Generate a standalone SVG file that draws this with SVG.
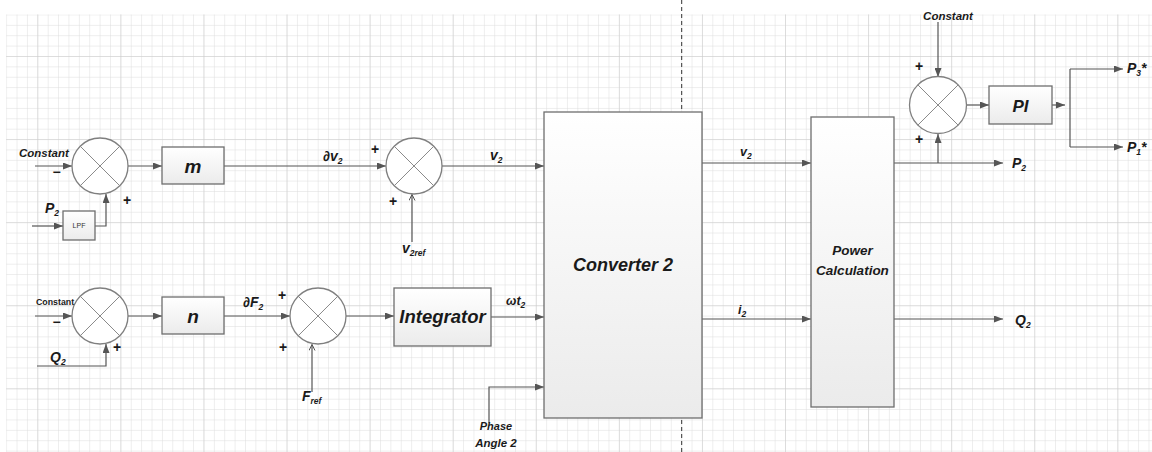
<svg xmlns="http://www.w3.org/2000/svg" width="1152" height="452" viewBox="0 0 1152 452">
<style>
.t{font-family:"Liberation Sans",Arial,sans-serif;font-weight:bold;font-style:italic;fill:#1a1a1a}
.s{font-size:8.5px}
.box{fill:url(#bg);stroke:#6e6e6e;stroke-width:1.3}
.sum circle{fill:#fff;stroke:#7f7f7f;stroke-width:1.3}
.sum line{stroke:#8a8a8a;stroke-width:1}
.c{fill:none;stroke:#555;stroke-width:1.2}
.sign{font-family:"Liberation Sans",Arial,sans-serif;font-weight:bold;font-size:14px;fill:#1a1a1a;text-anchor:middle}
</style>
<defs>
<linearGradient id="bg" x1="0" y1="0" x2="0" y2="1"><stop offset="0" stop-color="#ffffff"/><stop offset="1" stop-color="#ebebeb"/></linearGradient>
<marker id="ar" markerUnits="userSpaceOnUse" markerWidth="9" markerHeight="7" refX="9" refY="3.5" orient="auto"><path d="M0,0 L9,3.5 L0,7 z" fill="#555"/></marker>
<marker id="oa" markerUnits="userSpaceOnUse" markerWidth="7" markerHeight="7" refX="6" refY="3.5" orient="auto"><path d="M0,0.5 L6,3.5 L0,6.5" fill="none" stroke="#555" stroke-width="1"/></marker>
<pattern id="gmin" patternUnits="userSpaceOnUse" x="6.15" y="14.46" width="10.385" height="10.385"><path d="M0,0 H10.385 M0,0 V10.385" stroke="#dcdcdc" stroke-width="1" fill="none"/></pattern>
<pattern id="gmaj" patternUnits="userSpaceOnUse" x="37.3" y="56" width="83.08" height="83.08"><path d="M0,0 H83.08 M0,0 V83.08" stroke="#cbcbcb" stroke-width="1" fill="none"/></pattern>
</defs>
<rect width="1152" height="452" fill="#fff"/>
<g id="grid">
<rect x="6.15" y="14.46" width="1146" height="438" fill="url(#gmin)"/>
<rect x="6.15" y="14.46" width="1146" height="438" fill="url(#gmaj)"/>
</g>
<line id="divider" x1="681.7" y1="0" x2="681.7" y2="452" stroke="#333" stroke-width="1" stroke-dasharray="4,3"/>

<g id="connectors">
<path class="c" d="M35,166 H72" marker-end="url(#ar)"/>
<path class="c" d="M32,226 H63" marker-end="url(#ar)"/>
<path class="c" d="M95,226 H106 V194" marker-end="url(#ar)"/>
<path class="c" d="M128,166 H162" marker-end="url(#ar)"/>
<path class="c" d="M224,166 H386" marker-end="url(#ar)"/>
<path class="c" d="M442,166 H544" marker-end="url(#ar)"/>
<path class="c" d="M412,242 V194.5" marker-end="url(#oa)"/>
<path class="c" d="M35,316 H72" marker-end="url(#ar)"/>
<path class="c" d="M37,366 H106 V344" marker-end="url(#ar)"/>
<path class="c" d="M128,316 H162" marker-end="url(#ar)"/>
<path class="c" d="M224,316 H290" marker-end="url(#ar)"/>
<path class="c" d="M312,392 V344.5" marker-end="url(#oa)"/>
<path class="c" d="M346,316 H394" marker-end="url(#ar)"/>
<path class="c" d="M491,317 H544" marker-end="url(#ar)"/>
<path class="c" d="M489,423 V387 H544" marker-end="url(#ar)"/>
<path class="c" d="M702,163 H811" marker-end="url(#ar)"/>
<path class="c" d="M702,319 H811" marker-end="url(#ar)"/>
<path class="c" d="M894,163 H1003" marker-end="url(#ar)"/>
<path class="c" d="M938,163 V134" marker-end="url(#ar)"/>
<path class="c" d="M938,22 V77" marker-end="url(#ar)"/>
<path class="c" d="M967,105 H989" marker-end="url(#ar)"/>
<path class="c" d="M1052,105 H1065" marker-end="url(#ar)"/>
<path class="c" d="M1070,69 V147"/>
<path class="c" d="M1070,69 H1123" marker-end="url(#ar)"/>
<path class="c" d="M1070,147 H1123" marker-end="url(#ar)"/>
<path class="c" d="M894,319 H1003" marker-end="url(#ar)"/>
</g>

<g id="sum1" class="sum"><circle cx="100" cy="166" r="28"/><line x1="80.2" y1="146.2" x2="119.8" y2="185.8"/><line x1="119.8" y1="146.2" x2="80.2" y2="185.8"/></g>
<g id="sum2" class="sum"><circle cx="100" cy="316" r="28"/><line x1="80.2" y1="296.2" x2="119.8" y2="335.8"/><line x1="119.8" y1="296.2" x2="80.2" y2="335.8"/></g>
<g id="sum3" class="sum"><circle cx="414" cy="166" r="28"/><line x1="394.2" y1="146.2" x2="433.8" y2="185.8"/><line x1="433.8" y1="146.2" x2="394.2" y2="185.8"/></g>
<g id="sum4" class="sum"><circle cx="318" cy="316" r="28"/><line x1="298.2" y1="296.2" x2="337.8" y2="335.8"/><line x1="337.8" y1="296.2" x2="298.2" y2="335.8"/></g>
<g id="sum5" class="sum"><circle cx="938" cy="105" r="28.5"/><line x1="917.8" y1="84.8" x2="958.2" y2="125.2"/><line x1="958.2" y1="84.8" x2="917.8" y2="125.2"/></g>

<g id="m"><rect class="box" x="162" y="147" width="62" height="37"/><text class="t" x="193" y="172.5" font-size="19" text-anchor="middle">m</text></g>
<g id="n"><rect class="box" x="162" y="297" width="62" height="37"/><text class="t" x="193" y="322.5" font-size="19" text-anchor="middle">n</text></g>
<g id="lpf"><rect class="box" x="63" y="211" width="32" height="29"/><text x="79" y="228" font-family="Liberation Sans,Arial,sans-serif" font-size="7" fill="#333" text-anchor="middle">LPF</text></g>
<g id="integrator"><rect class="box" x="394" y="288" width="97" height="58"/><text class="t" x="442.5" y="323" font-size="18.5" text-anchor="middle">Integrator</text></g>
<g id="converter2"><rect class="box" x="544" y="112" width="158" height="306"/><text class="t" x="623" y="270.5" font-size="18" text-anchor="middle">Converter 2</text></g>
<g id="powercalc"><rect class="box" x="811" y="117" width="83" height="290"/><text class="t" x="852.5" y="255" font-size="13.5" text-anchor="middle">Power</text><text class="t" x="852.5" y="275" font-size="13.5" text-anchor="middle">Calculation</text></g>
<g id="pi"><rect class="box" x="989" y="86" width="63" height="38"/><text class="t" x="1020.5" y="111.5" font-size="17" text-anchor="middle">PI</text></g>

<g id="labels">
<text class="t" x="19" y="157" font-size="11.5">Constant</text>
<text x="36" y="305" font-family="Liberation Sans,Arial,sans-serif" font-weight="bold" font-size="8.8" fill="#1a1a1a">Constant</text>
<text class="t" x="948" y="20" font-size="11.5" text-anchor="middle">Constant</text>
<text class="t" x="45" y="213" font-size="14">P<tspan class="s" dy="3">2</tspan></text>
<text class="t" x="50" y="362" font-size="14">Q<tspan class="s" dy="3">2</tspan></text>
<text class="t" x="323" y="161" font-size="14">∂v<tspan class="s" dy="3">2</tspan></text>
<text class="t" x="490" y="160" font-size="14">v<tspan class="s" dy="3">2</tspan></text>
<text class="t" x="402" y="253" font-size="14">v<tspan class="s" dy="3" font-size="9.5">2ref</tspan></text>
<text class="t" x="243" y="307" font-size="14">∂F<tspan class="s" dy="3">2</tspan></text>
<text class="t" x="302" y="401" font-size="14">F<tspan class="s" dy="3" font-size="9.5">ref</tspan></text>
<text class="t" x="506" y="305" font-size="12.5">ωt<tspan class="s" dy="3">2</tspan></text>
<text class="t" x="496" y="430" font-size="11" text-anchor="middle" fill="#333">Phase</text>
<text class="t" x="496" y="447" font-size="11.5" text-anchor="middle" fill="#333">Angle 2</text>
<text class="t" x="740" y="156" font-size="12.5">v<tspan class="s" dy="3">2</tspan></text>
<text class="t" x="738" y="314" font-size="12.5">i<tspan class="s" dy="3">2</tspan></text>
<text class="t" x="1012" y="168" font-size="14">P<tspan class="s" dy="3">2</tspan></text>
<text class="t" x="1015" y="325" font-size="14">Q<tspan class="s" dy="3">2</tspan></text>
<text class="t" x="1127" y="73" font-size="14">P<tspan class="s" dy="3">3</tspan><tspan dy="-3">*</tspan></text>
<text class="t" x="1127" y="152" font-size="14">P<tspan class="s" dy="3">1</tspan><tspan dy="-3">*</tspan></text>
</g>
<g id="signs">
<text class="sign" x="56.5" y="177">−</text>
<text class="sign" x="127" y="205">+</text>
<text class="sign" x="56.5" y="327">−</text>
<text class="sign" x="117" y="352">+</text>
<text class="sign" x="375" y="154">+</text>
<text class="sign" x="393" y="206">+</text>
<text class="sign" x="282" y="300">+</text>
<text class="sign" x="283" y="352">+</text>
<text class="sign" x="919" y="71">+</text>
<text class="sign" x="919" y="144">+</text>
</g>
</svg>
